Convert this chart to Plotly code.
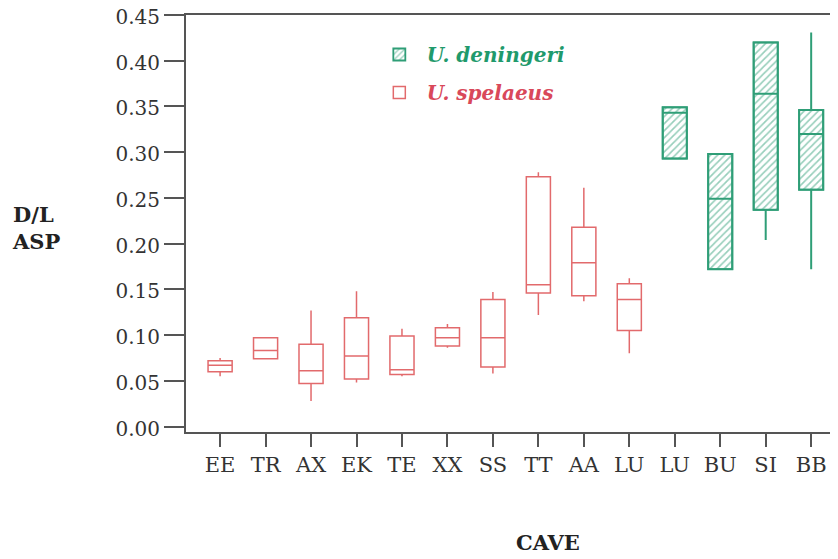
import plotly.graph_objects as go

# ---- data ----
caves = ["EE", "TR", "AX", "EK", "TE", "XX", "SS", "TT", "AA", "LU", "LU", "BU", "SI", "BB"]

# U. spelaeus (first 10 caves)
sp_pos = [0, 1, 2, 3, 4, 5, 6, 7, 8, 9]
sp_low = [0.055, 0.074, 0.028, 0.048, 0.055, 0.086, 0.058, 0.122, 0.137, 0.080]
sp_q1 = [0.060, 0.074, 0.047, 0.052, 0.057, 0.088, 0.065, 0.146, 0.143, 0.105]
sp_med = [0.067, 0.083, 0.061, 0.077, 0.062, 0.097, 0.097, 0.155, 0.179, 0.139]
sp_q3 = [0.072, 0.097, 0.090, 0.119, 0.099, 0.108, 0.139, 0.273, 0.218, 0.156]
sp_high = [0.075, 0.098, 0.127, 0.148, 0.107, 0.112, 0.147, 0.278, 0.261, 0.162]

# U. deningeri (last 4 caves)
de_pos = [10, 11, 12, 13]
de_low = [0.293, 0.172, 0.204, 0.172]
de_q1 = [0.293, 0.172, 0.237, 0.259]
de_med = [0.343, 0.249, 0.364, 0.320]
de_q3 = [0.349, 0.298, 0.420, 0.346]
de_high = [0.349, 0.298, 0.420, 0.431]

y_ticks = [0.00, 0.05, 0.10, 0.15, 0.20, 0.25, 0.30, 0.35, 0.40, 0.45]

RED = "#e26a6c"
GREEN = "#2f9e77"
SERIF = "DejaVu Serif"
BOX_W = 0.53

fig = go.Figure()

# hatched fill for U. deningeri boxes
fig.add_trace(go.Bar(
    x=de_pos,
    base=de_q1,
    y=[h - l for h, l in zip(de_q3, de_q1)],
    width=BOX_W,
    marker=dict(
        color="white",
        line=dict(color=GREEN, width=1.8),
        pattern=dict(shape="/", fgcolor=GREEN, bgcolor="white", size=5, solidity=0.33),
    ),
    name="<span style='color:#1f9a6c'><b><i>U. deningeri</i></b></span>",
    legendgroup="de",
    showlegend=True,
    hoverinfo="skip",
))

fig.add_trace(go.Box(
    x=de_pos,
    q1=de_q1, median=de_med, q3=de_q3,
    lowerfence=de_low, upperfence=de_high,
    width=BOX_W,
    whiskerwidth=0,
    fillcolor="rgba(0,0,0,0)",
    line=dict(color=GREEN, width=2),
    boxpoints=False,
    legendgroup="de",
    showlegend=False,
))

fig.add_trace(go.Box(
    x=sp_pos,
    q1=sp_q1, median=sp_med, q3=sp_q3,
    lowerfence=sp_low, upperfence=sp_high,
    width=BOX_W,
    whiskerwidth=0,
    fillcolor="rgba(0,0,0,0)",
    line=dict(color=RED, width=1.5),
    boxpoints=False,
    name="<span style='color:#d9485a'><b><i>U. spelaeus</i></b></span>",
    legendgroup="sp",
    showlegend=True,
))

# the page body has an 8px default margin: figure coordinates are screen - 8
fig.update_layout(
    width=830, height=551,
    margin=dict(l=178, r=0, t=7, b=127, autoexpand=False),
    paper_bgcolor="white",
    plot_bgcolor="white",
    barmode="overlay",
    font=dict(family=SERIF, color="#333333"),
    showlegend=True,
    legend=dict(
        x=0.285, y=0.952, xanchor="left", yanchor="top",
        traceorder="grouped", tracegroupgap=9,
        font=dict(family=SERIF, size=20),
        bgcolor="rgba(0,0,0,0)",
        itemwidth=45,
    ),
    xaxis=dict(
        range=[-0.75, 13.59],
        tickmode="array", tickvals=list(range(len(caves))), ticktext=caves,
        showline=True, linecolor="#555555", linewidth=2, mirror=True,
        ticks="outside", ticklen=13, tickwidth=1.5, tickcolor="#555555",
        tickfont=dict(family=SERIF, size=21, color="#333333"),
        showgrid=False, zeroline=False, automargin=False,
    ),
    yaxis=dict(
        range=[-0.006, 0.45],
        tickmode="array", tickvals=y_ticks, tickformat=".2f",
        showline=True, linecolor="#555555", linewidth=2,
        ticks="outside", ticklen=20, tickwidth=1.5, tickcolor="#555555",
        tickfont=dict(family=SERIF, size=20, color="#333333"),
        ticklabeloverflow="allow", ticklabelshift=2,
        showgrid=False, zeroline=False, automargin=False,
    ),
    annotations=[
        dict(text="<b>D/L<br>ASP</b>", xref="paper", yref="paper",
             x=-0.27, y=0.49, xanchor="left", yanchor="middle", align="left",
             showarrow=False, font=dict(family=SERIF, size=21, color="#222222")),
        dict(text="<b>CAVE</b>", xref="paper", yref="paper",
             x=0.555, y=-0.266, xanchor="center", yanchor="middle",
             showarrow=False, font=dict(family=SERIF, size=21, color="#222222")),
    ],
)

fig.write_html("out.html")
